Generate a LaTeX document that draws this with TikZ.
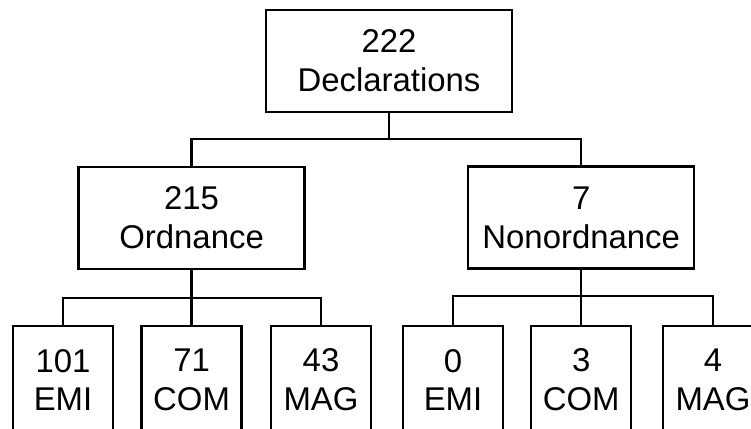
\documentclass[tikz,border=0pt]{standalone}
\usepackage{fontspec}
\setmainfont{Liberation Sans}
\usetikzlibrary{positioning}

\begin{document}
\begin{tikzpicture}[
  every node/.style={font=\fontsize{23.4}{27.7}\selectfont},
  box/.style={draw, line width=1.6pt, minimum width=61.5mm, minimum height=25.5mm, align=center, inner sep=0pt},
  mid/.style={box, minimum width=56.5mm},
  leaf/.style={box, minimum width=25mm, minimum height=27mm},
  link/.style={line width=1.6pt}
]
  \clip (0,0) rectangle (18.775,10.7);
  \node[box] (Decl) at (9.725,9.175) {222\\Declarations};
  \node[mid] (Ord) at (4.79,5.25) {215\\Ordnance};
  \node[mid] (Non) at (14.53,5.26) {7\\Nonordnance};
  \node[leaf] (OrdEMI) at (1.575,1.2) {101\\EMI};
  \node[leaf] (OrdCOM) at (4.79,1.2) {71\\COM};
  \node[leaf] (OrdMAG) at (8.025,1.2) {43\\MAG};
  \node[leaf] (NonEMI) at (11.325,1.2) {0\\EMI};
  \node[leaf] (NonCOM) at (14.53,1.2) {3\\COM};
  \node[leaf] (NonMAG) at (17.825,1.2) {4\\MAG};
  \draw[link] (Decl.south) -- ++(0,-0.65) -| (Ord.north);
  \draw[link] (Decl.south) -- ++(0,-0.65) -| (Non.north);
  \draw[link] (Ord.south) -- ++(0,-0.7) -| (OrdEMI.north);
  \draw[link] (Ord.south) -- (OrdCOM.north);
  \draw[link] (Ord.south) -- ++(0,-0.7) -| (OrdMAG.north);
  \draw[link] (Non.south) -- ++(0,-0.65) -| (NonEMI.north);
  \draw[link] (Non.south) -- (NonCOM.north);
  \draw[link] (Non.south) -- ++(0,-0.65) -| (NonMAG.north);
\end{tikzpicture}
\end{document}
